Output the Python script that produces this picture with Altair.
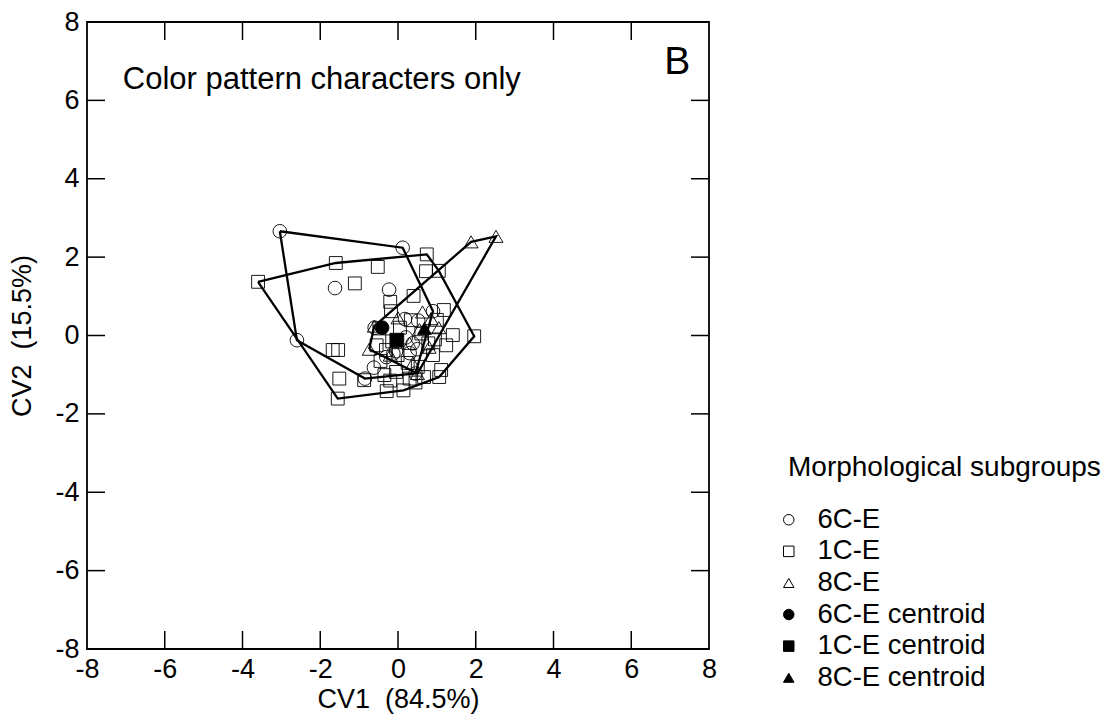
import altair as alt
import pandas as pd

# ---- data ----
# 6C-E (open circles)
g6_x = [-3.04, 0.12, -1.62, -0.23, 0.90, 0.18, 0.52, -0.60, 0.20, -0.05, 0.30, 0.50, -0.62, -0.85, -2.60, 0.45, -0.30, 0.38, -0.12]
g6_y = [2.66, 2.24, 1.21, 1.17, 0.62, 0.42, 0.38, 0.20, -0.05, -0.40, -0.45, -0.35, -0.82, -1.10, -0.12, -0.97, -0.55, -0.20, -0.46]
# 1C-E (open squares)
g1_x = [-3.60, -1.60, 0.74, 1.05, 1.96, 1.06, 0.14, -0.29, -1.55, -0.52, -1.11, 0.72, 0.40, -0.20, 1.18,
        -1.68, -1.54, -1.51, -0.87, -0.18, 0.33, 1.41, 1.24, 1.11, -0.31, -0.01, -0.35, -0.05, 0.51, 0.67,
        -0.48, 0.25, -0.55, 0.78, 0.60, 0.95, 0.90, -0.15, 0.30, 1.00, -0.45, 0.05, -0.20, 0.45]
g1_y = [1.37, 1.85, 2.07, 1.65, -0.02, -1.06, -1.40, -1.42, -1.61, 1.75, 1.33, 1.64, 1.01, 0.86, 0.65,
        -0.37, -0.37, -1.10, -1.14, 0.62, 0.39, 0.01, -0.25, -0.88, -0.37, -0.50, -1.01, -0.93, -0.80, -1.06,
        0.18, -0.70, -0.25, -0.20, 0.05, -0.10, -0.50, -0.15, -1.10, 0.40, -0.65, 0.20, -1.15, -1.20]
# 8C-E (open triangles)
g8_x = [1.88, 2.52, 0.50, -0.74, -0.61, 0.85, 1.05, 0.63, 0.00, 0.38, 0.30, 0.80, -0.20, 0.55]
g8_y = [2.39, 2.53, -0.97, -0.35, 0.24, 0.43, 0.20, 0.60, 0.45, -0.71, -0.20, -0.30, -0.50, 0.15]
# centroids
cen_groups = ["6C-E centroid", "1C-E centroid", "8C-E centroid"]
cen_x = [-0.41, -0.03, 0.68]
cen_y = [0.20, -0.12, 0.18]

groups = ["6C-E", "1C-E", "8C-E", "6C-E centroid", "1C-E centroid", "8C-E centroid"]
axis_values = [-8, -6, -4, -2, 0, 2, 4, 6, 8]
inner_ticks = [-6, -4, -2, 0, 2, 4, 6]

panel_text = ["Color pattern characters only"]
panel_text_x = [-7.08]
panel_text_y = [6.51]
panel_letter = ["B"]
panel_letter_x = [7.52]
panel_letter_y = [6.98]

# ---- tables ----
def convex_hull(pts):
    pts = sorted(set(pts))
    def cross(o, a, b):
        return (a[0] - o[0]) * (b[1] - o[1]) - (a[1] - o[1]) * (b[0] - o[0])
    lower = []
    for p in pts:
        while len(lower) >= 2 and cross(lower[-2], lower[-1], p) <= 0:
            lower.pop()
        lower.append(p)
    upper = []
    for p in reversed(pts):
        while len(upper) >= 2 and cross(upper[-2], upper[-1], p) <= 0:
            upper.pop()
        upper.append(p)
    ring = lower[:-1] + upper[:-1]
    return ring + [ring[0]]

obs = {"6C-E": (g6_x, g6_y), "1C-E": (g1_x, g1_y), "8C-E": (g8_x, g8_y)}
pt_rows, hull_rows = [], []
for g, (xs, ys) in obs.items():
    for x, y in zip(xs, ys):
        pt_rows.append({"group": g, "x": x, "y": y})
    for i, (x, y) in enumerate(convex_hull(list(zip(xs, ys)))):
        hull_rows.append({"group": g, "x": x, "y": y, "ord": i})
pts = pd.DataFrame(pt_rows)
hulls = pd.DataFrame(hull_rows)
cen = pd.DataFrame({"group": cen_groups, "x": cen_x, "y": cen_y})
ticks = pd.DataFrame({"v": inner_ticks})
txt = pd.DataFrame({"t": panel_text, "x": panel_text_x, "y": panel_text_y})
letter = pd.DataFrame({"t": panel_letter, "x": panel_letter_x, "y": panel_letter_y})

FONT = "Liberation Sans"
W, H = 622, 627
TL = 18

xscale = alt.Scale(domain=[-8, 8], nice=False, zero=False)
yscale = alt.Scale(domain=[-8, 8], nice=False, zero=False)
LBL = "'' + datum.value"
xaxis = alt.Axis(values=axis_values, ticks=False, domain=False, grid=False, labelFontSize=27,
                 labelFont=FONT, labelColor="black", labelPadding=7, labelFlush=False,
                 labelOverlap=False, labelExpr=LBL, title="CV1\u00a0\u00a0(84.5%)", titleFont=FONT,
                 titleFontSize=27, titleFontWeight="normal", titleColor="black", titlePadding=4)
yaxis = alt.Axis(values=axis_values, ticks=False, domain=False, grid=False, labelFontSize=27,
                 labelFont=FONT, labelColor="black", labelPadding=8, labelFlush=False,
                 labelOverlap=False, labelExpr=LBL, title="CV2\u00a0\u00a0(15.5%)", titleFont=FONT,
                 titleFontSize=27, titleFontWeight="normal", titleColor="black", titlePadding=18)

X = alt.X("x:Q", scale=xscale, axis=xaxis)
Y = alt.Y("y:Q", scale=yscale, axis=yaxis)

leg = alt.Legend(title="Morphological subgroups", orient="none", legendX=701, legendY=432,
                 titleFont=FONT, titleFontSize=28, titleFontWeight="normal", titleColor="black",
                 titlePadding=24, titleLimit=0, labelLimit=0, labelFont=FONT, labelFontSize=27.5,
                 labelColor="black", labelOffset=15, rowPadding=2.6, symbolSize=110,
                 symbolOffset=-13, symbolStrokeWidth=1)
shape_enc = alt.Shape("group:N", scale=alt.Scale(domain=groups,
                      range=["circle", "square", "triangle-up", "circle", "square", "triangle-up"]),
                      legend=leg)
fill_enc = alt.Fill("group:N", scale=alt.Scale(domain=groups,
                    range=["transparent", "transparent", "transparent", "black", "black", "black"]),
                    legend=leg)
stroke_enc = alt.Stroke("group:N", scale=alt.Scale(domain=groups,
                        range=["black", "black", "black", "black", "black", "black"]),
                        legend=leg)

def open_layer(g, size):
    return alt.Chart(pts).transform_filter(alt.datum.group == g).mark_point(
        filled=True, strokeWidth=0.9, size=size, opacity=1
    ).encode(x=X, y=Y, shape=shape_enc, fill=fill_enc, stroke=stroke_enc)

circles = open_layer("6C-E", 185)
squares = open_layer("1C-E", 165)
triangles = open_layer("8C-E", 195)

hull_lines = alt.Chart(hulls).mark_line(stroke="black", strokeWidth=2.3).encode(
    x=X, y=Y, detail="group:N", order="ord:Q")

centroids = alt.Chart(cen).mark_point(filled=True, strokeWidth=0.9,
                                      size=190, opacity=1).encode(
    x=X, y=Y, shape=shape_enc, fill=fill_enc, stroke=stroke_enc)

tick_style = dict(color="black", strokeWidth=1.5)
t_bottom = alt.Chart(ticks).mark_rule(**tick_style).encode(
    x=alt.X("v:Q", scale=xscale), y=alt.value(H), y2=alt.value(H - TL))
t_top = alt.Chart(ticks).mark_rule(**tick_style).encode(
    x=alt.X("v:Q", scale=xscale), y=alt.value(0), y2=alt.value(TL))
t_left = alt.Chart(ticks).mark_rule(**tick_style).encode(
    y=alt.Y("v:Q", scale=yscale), x=alt.value(0), x2=alt.value(TL))
t_right = alt.Chart(ticks).mark_rule(**tick_style).encode(
    y=alt.Y("v:Q", scale=yscale), x=alt.value(W), x2=alt.value(W - TL))

label_txt = alt.Chart(txt).mark_text(align="left", baseline="middle", font=FONT,
                                     fontSize=31, color="black").encode(x=X, y=Y, text="t:N")
label_letter = alt.Chart(letter).mark_text(align="right", baseline="middle", font=FONT,
                                           fontSize=39, color="black").encode(x=X, y=Y, text="t:N")

chart = alt.layer(
    circles, squares, triangles, hull_lines, centroids,
    t_bottom, t_top, t_left, t_right, label_txt, label_letter
).properties(
    width=W, height=H,
    padding={"left": 0, "top": 0, "right": 0, "bottom": 2},
    background="white"
).configure_view(stroke="black", strokeWidth=1.8)

chart.save("out.html", embed_options={"renderer": "svg", "actions": False})
